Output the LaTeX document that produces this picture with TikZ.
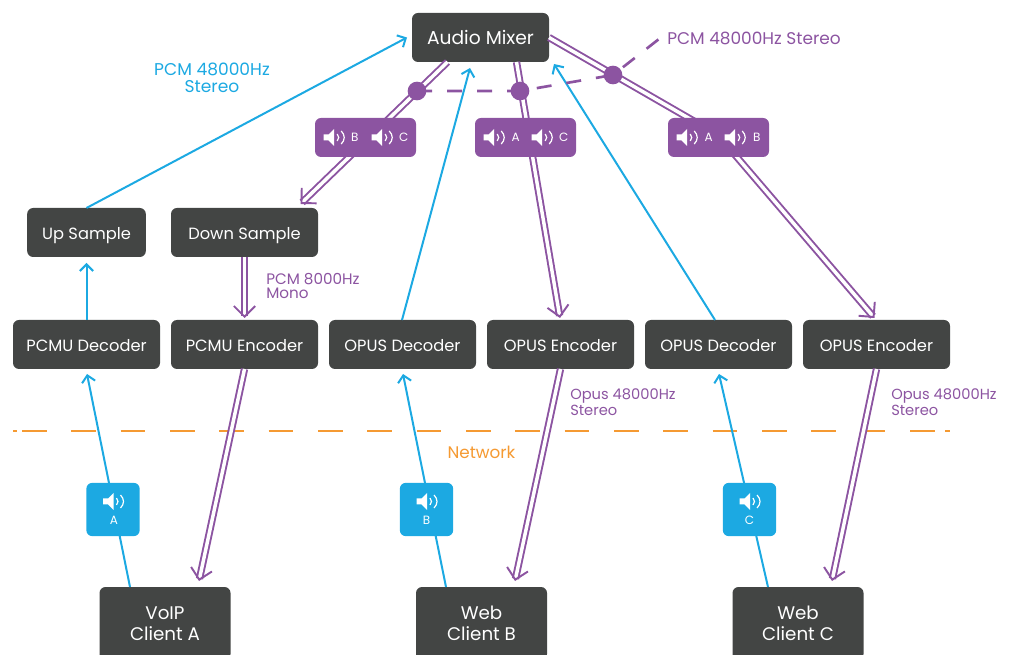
\documentclass[tikz,border=0pt]{standalone}
\usepackage{fontspec}
\setmainfont{Poppins}
\usetikzlibrary{positioning,calc,arrows.meta}
\definecolor{boxdark}{HTML}{434544}
\definecolor{mixpurple}{HTML}{8C54A1}
\definecolor{rawblue}{HTML}{1CA9E2}
\definecolor{netorange}{HTML}{F59A32}

\begin{document}
\begin{tikzpicture}[%
	x=0.75pt,
	y=-0.75pt,
	dark node/.style={
		rectangle,
		rounded corners=4.5pt,
		fill=boxdark,
		text=white,
		outer sep=0pt,
		inner sep=0pt,
		align=center
	},
	main node/.style={
		dark node,
		minimum width=110.25pt,
		minimum height=36.75pt,
		text height=10pt,
		text depth=0pt,
		font=\fontsize{12.2}{14}\selectfont
	},
	client node/.style={
		dark node,
		minimum width=98.25pt,
		minimum height=54.75pt,
		font=\fontsize{13.7}{15.75}\selectfont
	},
	purple tag/.style={
		rectangle,
		rounded corners=4.5pt,
		fill=mixpurple,
		minimum width=75.75pt,
		minimum height=29.25pt,
		inner sep=0pt
	},
	blue tag/.style={
		rectangle,
		rounded corners=4.5pt,
		fill=rawblue,
		minimum width=40pt,
		minimum height=40pt,
		inner sep=0pt
	},
	tag letter/.style={
		text=white,
		inner sep=0pt,
		font=\fontsize{9}{10}\selectfont
	},
	purple note/.style={
		text=mixpurple,
		inner sep=0pt,
		align=left,
		font=\fontsize{11}{10.5}\selectfont
	},
	raw line/.style={
		draw=rawblue,
		line width=1.5pt,
		-{Straight Barb[length=5pt,width=10pt]}
	},
	mix line/.style={
		draw=mixpurple,
		line width=1.45pt,
		double=white,
		double distance=2.6pt,
		-{Straight Barb[length=8pt,width=16pt]}
	},
	mix dot/.style={
		circle,
		fill=mixpurple,
		minimum size=14pt,
		inner sep=0pt
	},
	speaker/.pic={
		\fill[white] (-11,-3) -- (-6,-3) -- (-0.5,-8.5) -- (-0.5,8.5) -- (-6,3) -- (-11,3) -- cycle;
		\draw[white,line width=0.9pt] (2.5,-3.5) .. controls (4.5,-1.5) and (4.5,1.5) .. (2.5,3.5);
		\draw[white,line width=0.9pt] (6.5,-6.5) .. controls (10.5,-2.5) and (10.5,2.5) .. (6.5,6.5);
	},
]
	\useasboundingbox (0,0) rectangle (1010,655);

	% boxes
	\node[main node] (mixer) at (480.5,37.5) [minimum width=102.75pt,text height=10pt,font=\fontsize{14}{16}\selectfont] {Audio Mixer};
	\node[main node] (pcmudec) at (86.5,344.5) {PCMU Decoder};
	\node[main node] (pcmuenc) [right = 8.25pt of pcmudec] {PCMU Encoder};
	\node[main node] (opusdecb) [right = 8.25pt of pcmuenc] {OPUS Decoder};
	\node[main node] (opusencb) [right = 8.25pt of opusdecb] {OPUS Encoder};
	\node[main node] (opusdecc) [right = 8.25pt of opusencb] {OPUS Decoder};
	\node[main node] (opusencc) [right = 8.25pt of opusdecc] {OPUS Encoder};
	\node[main node] (upsample) [above = 47.25pt of pcmudec,minimum width=89pt] {Up Sample};
	\node[main node] (downsample) [above = 47.25pt of pcmuenc] {Down Sample};
	\node[client node] (clienta) at (165,623.5) {VoIP\\Client A};
	\node[client node] (clientb) at (481.5,623.5) {Web\\Client B};
	\node[client node] (clientc) at (798,623.5) {Web\\Client C};

	% free ends of the dashed lines
	\coordinate (dota) at (417,91);
	\coordinate (dotb) at (520,91);
	\coordinate (dotc) at (613,75);
	\coordinate (mixend) at (659,39);
	\coordinate (netstart) at (13,431);
	\coordinate (netgap) at (17,431);
	\coordinate (netdash) at (22,431);
	\coordinate (netdashend) at (935,431);
	\coordinate (netlast) at (945,431);
	\coordinate (netend) at (950,431);
	\coordinate (mixbend) at (718,135);

	% network
	\draw[netorange,line width=1.5pt] (netstart) -- (netgap);
	\draw[netorange,line width=1.5pt,dash pattern=on 18.5pt off 18.5pt] (netdash) -- (netdashend);
	\draw[netorange,line width=1.5pt] (netlast) -- (netend);

	% unmixed audio going up
	\draw[raw line] ($(clienta.north)+(-35,0)$) -- ($(pcmudec.south)+(0.5,5)$);
	\draw[raw line] ($(clientb.north)+(-35.5,0)$) -- ($(opusdecb.south)+(0.5,5)$);
	\draw[raw line] ($(clientc.north)+(-30,0)$) -- ($(opusdecc.south)+(0.5,5)$);
	\draw[raw line] (pcmudec.north) -- ($(upsample.south)+(0,6)$);
	\draw[raw line] (upsample.north) -- ($(mixer.west)+(-5,0)$);
	\draw[raw line] ($(opusdecb.north)+(-0.5,0)$) -- ($(mixer.south)+(-10.5,6)$);
	\draw[raw line] ($(opusdecc.north)+(-3.5,0)$) -- ($(mixer.south east)+(5,2)$);

	% mixed audio going down
	\draw[mix line] ($(mixer.south)+(-33,0)$) -- ($(downsample.north)+(56,-4)$);
	\draw[mix line] ($(mixer.south)+(36,0)$) -- ($(opusencb.north)+(-0.5,-2)$);
	\draw[mix line] (mixer.east) -- (mixbend) -- ($(opusencc.north)+(-2,-2)$);
	\draw[mix line] (downsample.south) -- ($(pcmuenc.north)+(0,-2)$);
	\draw[mix line] (pcmuenc.south) -- ($(clienta.north)+(34,-6)$);
	\draw[mix line] (opusencb.south) -- ($(clientb.north)+(33.5,-6)$);
	\draw[mix line] (opusencc.south) -- ($(clientc.north)+(34,-6)$);

	% which streams are mixed
	\draw[mixpurple,line width=2pt,dash pattern=on 11.25pt off 11.25pt] (dota) -- (dotb) -- (dotc) -- (mixend);
	\node[mix dot] (dotleft) at (dota) {};
	\node[mix dot] (dotmid) at (dotb) {};
	\node[mix dot] (dotright) at (dotc) {};

	% tags
	\node[purple tag] (tagbc) at (365.5,137.5) {};
	\node[purple tag] (tagac) at (525.5,137.5) {};
	\node[purple tag] (tagab) at (718.5,137.5) {};
	\node[blue tag] (taga) at (113,509.5) {};
	\node[blue tag] (tagb) at (426.5,509.5) {};
	\node[blue tag] (tagc) at (749.5,509.5) {};
	\pic at ($(tagbc.west)+(20,0)$) {speaker};
	\pic at ($(tagbc.west)+(68,0)$) {speaker};
	\pic at ($(tagac.west)+(20,0)$) {speaker};
	\pic at ($(tagac.west)+(68,0)$) {speaker};
	\pic at ($(tagab.west)+(20,0)$) {speaker};
	\pic at ($(tagab.west)+(68,0)$) {speaker};
	\pic at ($(taga)+(1,-8)$) {speaker};
	\pic at ($(tagb)+(1,-8)$) {speaker};
	\pic at ($(tagc)+(1,-8)$) {speaker};
	\node[tag letter] (lbcb) at ($(tagbc.west)+(40,0)$) {B};
	\node[tag letter] (lbcc) at ($(tagbc.west)+(89,0)$) {C};
	\node[tag letter] (laca) at ($(tagac.west)+(41,0)$) {A};
	\node[tag letter] (lacc) at ($(tagac.west)+(89,0)$) {C};
	\node[tag letter] (laba) at ($(tagab.west)+(41,0)$) {A};
	\node[tag letter] (labb) at ($(tagab.west)+(89,0)$) {B};
	\node[tag letter] (la) at ($(taga)+(1,11)$) {A};
	\node[tag letter] (lb) at ($(tagb)+(0,11)$) {B};
	\node[tag letter] (lc) at ($(tagc)+(0,11)$) {C};

	% notes
	\node[text=rawblue,inner sep=0pt,align=center,font=\fontsize{12.8}{12.75}\selectfont] (noteraw) at (212,78) {PCM 48000Hz\\Stereo};
	\node[purple note,anchor=west,font=\fontsize{12.7}{14}\selectfont] (notemix) at (667,38) {PCM 48000Hz Stereo};
	\node[purple note,anchor=west,font=\fontsize{11.4}{10.5}\selectfont] (notemono) at (266,285.5) {PCM 8000Hz\\Mono};
	\node[purple note,anchor=west] (noteopusb) at (570,402) {Opus 48000Hz\\Stereo};
	\node[purple note,anchor=west] (noteopusc) at (891,402) {Opus 48000Hz\\Stereo};
	\node[text=netorange,inner sep=0pt,font=\fontsize{12.6}{14}\selectfont] (network) at (481.5,452.5) {Network};
\end{tikzpicture}
\end{document}
